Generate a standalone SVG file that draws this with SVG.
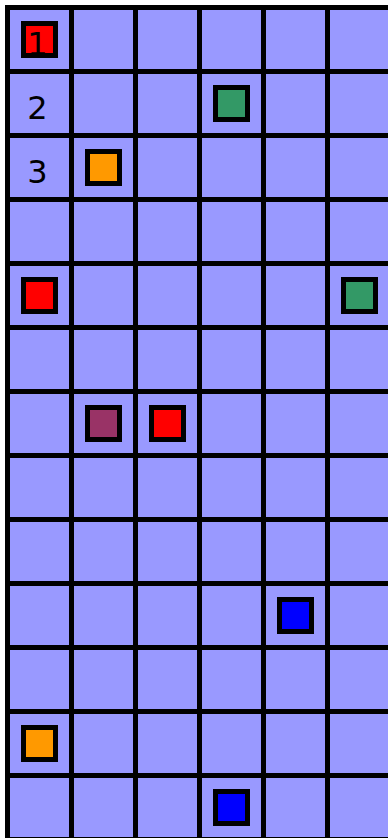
<svg xmlns="http://www.w3.org/2000/svg" width="388" height="838" viewBox="0 0 388 838">
<style>
.grid{stroke:#000;stroke-width:5}
.sq{stroke:#000;stroke-width:5}
.lbl{font-family:"DejaVu Sans",sans-serif;font-size:32px;fill:#000;text-anchor:middle}
</style>
<rect x="0" y="0" width="388" height="838" fill="#fff"/>
<g id="board">
<rect x="7.5" y="7.5" width="384" height="832" fill="#9999ff"/>
<g class="grid">
<line x1="7.5" y1="5" x2="7.5" y2="842"/>
<line x1="71.5" y1="5" x2="71.5" y2="842"/>
<line x1="135.5" y1="5" x2="135.5" y2="842"/>
<line x1="199.5" y1="5" x2="199.5" y2="842"/>
<line x1="263.5" y1="5" x2="263.5" y2="842"/>
<line x1="327.5" y1="5" x2="327.5" y2="842"/>
<line x1="5" y1="7.5" x2="394" y2="7.5"/>
<line x1="5" y1="71.5" x2="394" y2="71.5"/>
<line x1="5" y1="135.5" x2="394" y2="135.5"/>
<line x1="5" y1="199.5" x2="394" y2="199.5"/>
<line x1="5" y1="263.5" x2="394" y2="263.5"/>
<line x1="5" y1="327.5" x2="394" y2="327.5"/>
<line x1="5" y1="391.5" x2="394" y2="391.5"/>
<line x1="5" y1="455.5" x2="394" y2="455.5"/>
<line x1="5" y1="519.5" x2="394" y2="519.5"/>
<line x1="5" y1="583.5" x2="394" y2="583.5"/>
<line x1="5" y1="647.5" x2="394" y2="647.5"/>
<line x1="5" y1="711.5" x2="394" y2="711.5"/>
<line x1="5" y1="775.5" x2="394" y2="775.5"/>
<line x1="5" y1="839.5" x2="394" y2="839.5"/>
</g>
</g>
<g id="pieces">
<rect id="p1" class="sq" x="23.5" y="23.5" width="32" height="32" fill="#ff0000"/>
<rect id="p2" class="sq" x="215.5" y="87.5" width="32" height="32" fill="#339966"/>
<rect id="p3" class="sq" x="87.5" y="151.5" width="32" height="32" fill="#ff9900"/>
<rect id="p4" class="sq" x="23.5" y="279.5" width="32" height="32" fill="#ff0000"/>
<rect id="p5" class="sq" x="343.5" y="279.5" width="32" height="32" fill="#339966"/>
<rect id="p6" class="sq" x="87.5" y="407.5" width="32" height="32" fill="#993366"/>
<rect id="p7" class="sq" x="151.5" y="407.5" width="32" height="32" fill="#ff0000"/>
<rect id="p8" class="sq" x="279.5" y="599.5" width="32" height="32" fill="#0000ff"/>
<rect id="p9" class="sq" x="23.5" y="727.5" width="32" height="32" fill="#ff9900"/>
<rect id="p10" class="sq" x="215.5" y="791.5" width="32" height="32" fill="#0000ff"/>
</g>
<g id="labels">
<text class="lbl" x="37.5" y="55">1</text>
<text class="lbl" x="37.5" y="119">2</text>
<text class="lbl" x="37.5" y="183">3</text>
</g>
</svg>
